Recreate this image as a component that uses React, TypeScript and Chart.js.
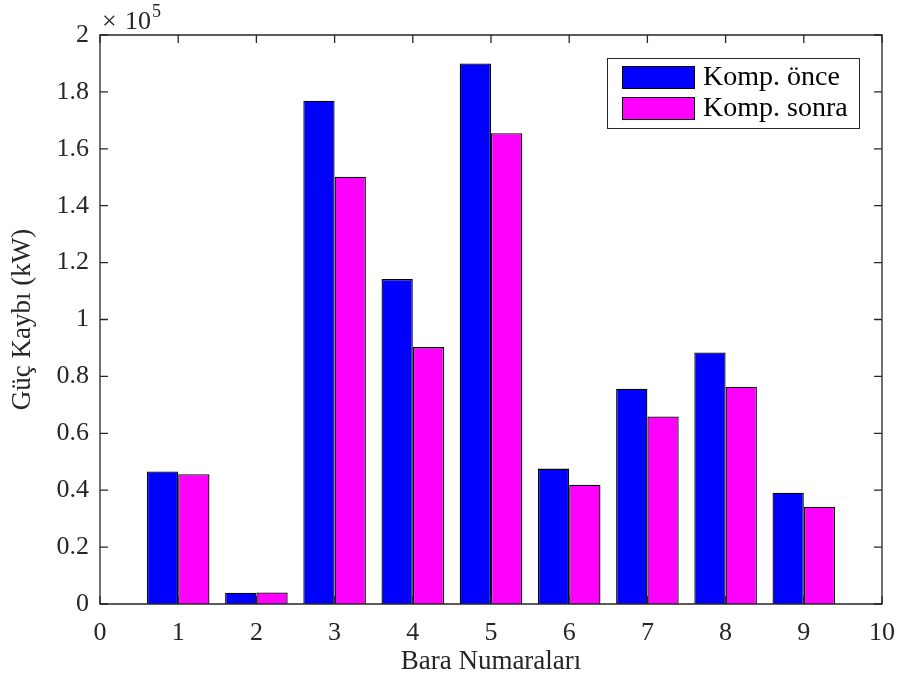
import React, { useEffect, useRef } from "react";
import { Chart, registerables } from "chart.js";

Chart.register(...registerables);

const baraNumbers = [1, 2, 3, 4, 5, 6, 7, 8, 9];
const kompOnce = [46600, 3950, 176900, 114200, 190000, 47600, 75700, 88400, 39100];
const kompSonra = [45600, 4050, 150200, 90300, 165500, 41900, 65900, 76400, 34200];
const seriesLabels = ["Komp. önce", "Komp. sonra"];
const seriesColors = ["#0000ff", "#ff00ff"];
const xTicks = [0, 1, 2, 3, 4, 5, 6, 7, 8, 9, 10];
const yTicks = [0, 20000, 40000, 60000, 80000, 100000, 120000, 140000, 160000, 180000, 200000];
const xTitle = "Bara Numaraları";
const yTitle = "Güç Kaybı (kW)";

const FONT = "'Liberation Serif', 'Times New Roman', serif";
const AXIS_COLOR = "#262626";

const matlabPlugin = {
  id: "matlabDecor",
  afterDraw(chart: any) {
    const { ctx, chartArea } = chart;
    const { left, right, top, bottom } = chartArea;
    const xs = chart.scales.x;
    const ys = chart.scales.y;
    ctx.save();
    // box
    ctx.strokeStyle = AXIS_COLOR;
    ctx.lineWidth = 1.3;
    ctx.beginPath();
    ctx.rect(left, top, right - left, bottom - top);
    ctx.stroke();
    // inward ticks
    const tl = 8;
    ctx.beginPath();
    xTicks.forEach((v) => {
      const px = xs.getPixelForValue(v);
      ctx.moveTo(px, bottom);
      ctx.lineTo(px, bottom - tl);
      ctx.moveTo(px, top);
      ctx.lineTo(px, top + tl);
    });
    yTicks.forEach((v) => {
      const py = ys.getPixelForValue(v);
      ctx.moveTo(left, py);
      ctx.lineTo(left + tl, py);
      ctx.moveTo(right, py);
      ctx.lineTo(right - tl, py);
    });
    ctx.stroke();
    // exponent
    ctx.fillStyle = AXIS_COLOR;
    ctx.textBaseline = "alphabetic";
    ctx.textAlign = "left";
    ctx.font = `26px ${FONT}`;
    ctx.fillText("×", left + 2, top - 6);
    ctx.fillText("10", left + 25, top - 6);
    ctx.font = `18px ${FONT}`;
    ctx.fillText("5", left + 52, top - 18);
    // legend
    const lx = 607, ly = 58, lw = 252, lh = 70;
    ctx.fillStyle = "#ffffff";
    ctx.fillRect(lx, ly, lw, lh);
    ctx.strokeStyle = AXIS_COLOR;
    ctx.lineWidth = 1;
    ctx.strokeRect(lx + 0.5, ly + 0.5, lw, lh);
    chart.data.datasets.forEach((ds: any, i: number) => {
      const sy = 66 + i * 31;
      ctx.fillStyle = ds.backgroundColor;
      ctx.fillRect(622, sy, 73, 23);
      ctx.strokeStyle = "#000";
      ctx.lineWidth = 1;
      ctx.strokeRect(622.5, sy + 0.5, 72, 22);
      ctx.fillStyle = "#000";
      ctx.font = `28px ${FONT}`;
      ctx.textBaseline = "middle";
      ctx.fillText(ds.label, 703, sy + 12);
    });
    ctx.restore();
  },
};

export default function App() {
  const ref = useRef<HTMLCanvasElement | null>(null);
  useEffect(() => {
    document.body.style.margin = "0";
    if (!ref.current) return;
    const datasets = [kompOnce, kompSonra].map((vals, i) => ({
      label: seriesLabels[i],
      data: baraNumbers.map((x, j) => ({ x, y: vals[j] })),
      backgroundColor: seriesColors[i],
      borderColor: "#000000",
      borderWidth: 1.3,
      barPercentage: 1.0,
      categoryPercentage: 0.8,
    }));
    const chart = new Chart(ref.current, {
      type: "bar",
      data: { datasets },
      plugins: [matlabPlugin],
      options: {
        animation: false,
        responsive: true,
        maintainAspectRatio: false,
        layout: { padding: { top: 35, right: 18, left: 0, bottom: 0 } },
        plugins: { legend: { display: false }, tooltip: { enabled: false } },
        scales: {
          x: {
            type: "linear",
            offset: false,
            min: 0,
            max: 10,
            grid: { display: false },
            border: { display: false },
            afterBuildTicks: (scale: any) => {
              scale.ticks = xTicks.map((v) => ({ value: v }));
            },
            afterFit: (scale: any) => {
              scale.height = 75;
            },
            ticks: {
              color: AXIS_COLOR,
              font: { family: FONT, size: 26 },
              padding: 6,
              maxRotation: 0,
              autoSkip: false,
            },
            title: {
              display: true,
              text: xTitle,
              color: AXIS_COLOR,
              font: { family: FONT, size: 27 },
              padding: { top: 0, bottom: 1 },
            },
          },
          y: {
            type: "linear",
            min: 0,
            max: 200000,
            grid: { display: false },
            border: { display: false },
            afterBuildTicks: (scale: any) => {
              scale.ticks = yTicks.map((v) => ({ value: v }));
            },
            afterFit: (scale: any) => {
              scale.width = 100;
            },
            ticks: {
              color: AXIS_COLOR,
              font: { family: FONT, size: 26 },
              padding: 3,
              autoSkip: false,
              callback: (v: any) => String(Number((Number(v) / 100000).toFixed(1))),
            },
            title: {
              display: true,
              text: yTitle,
              color: AXIS_COLOR,
              font: { family: FONT, size: 27 },
              padding: { top: 7, bottom: 0 },
            },
          },
        },
      },
    });
    return () => chart.destroy();
  }, []);
  return (
    <div style={{ width: 901, height: 679, position: "relative" }}>
      <canvas ref={ref} />
    </div>
  );
}
